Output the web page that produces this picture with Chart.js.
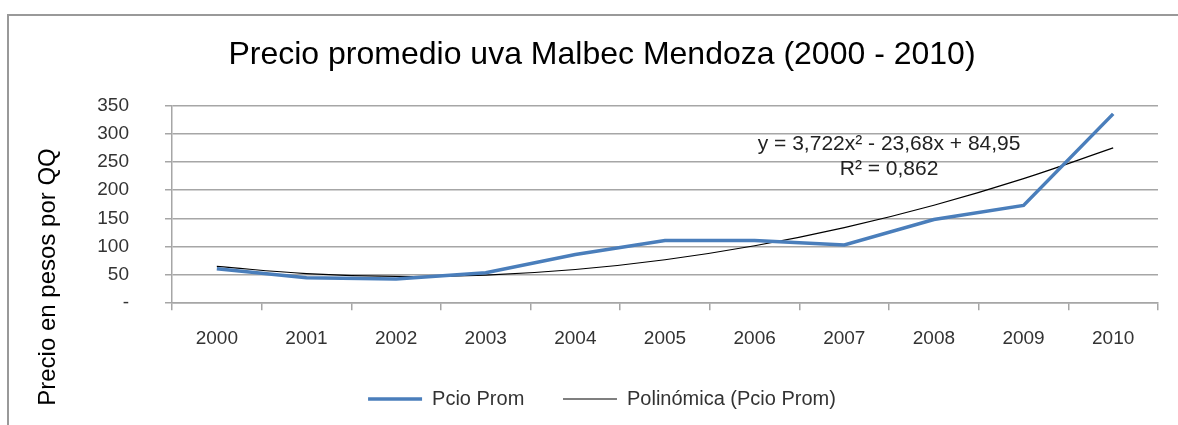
<!DOCTYPE html>
<html>
<head>
<meta charset="utf-8">
<script src="https://cdn.jsdelivr.net/npm/chart.js@4"></script>
<style>
  html, body { margin: 0; padding: 0; background: #fff; }
  #wrap { position: relative; width: 1178px; height: 425px; }
  #frame { position: absolute; left: 7px; top: 14px; width: 1180px; height: 420px;
           border-left: 2px solid #999; border-top: 2px solid #999; pointer-events: none; }
</style>
</head>
<body>
<div id="wrap">
  <canvas id="precioChart" width="1178" height="425"></canvas>
  <div id="frame"></div>
</div>
<script>
const years = ['2000', '2001', '2002', '2003', '2004', '2005', '2006', '2007', '2008', '2009', '2010'];
const pcioProm = [61, 45, 43, 54, 86, 111, 111, 103, 148, 173, 335];
const polinomica = [65, 52.5, 47.4, 49.8, 59.6, 76.9, 101.6, 133.7, 173.3, 220.4, 274.8];
const yTicks = [0, 50, 100, 150, 200, 250, 300, 350];
const ecuacion = ['y = 3,722x² - 23,68x + 84,95', 'R² = 0,862'];
const ejeY = 'Precio en pesos por QQ';

const fontFam = '"Liberation Sans", Arial, sans-serif';
const gridColor = '#a6a6a6';

// etiquetas extra: titulo del eje Y y ecuacion de la linea de tendencia
const extras = {
    id: 'extras',
    afterDraw(chart) {
        const ctx = chart.ctx;
        const x = chart.scales.x, y = chart.scales.y;
        ctx.save();
        ctx.fillStyle = '#000';
        ctx.font = '24px ' + fontFam;
        ctx.textAlign = 'center';
        ctx.textBaseline = 'middle';
        ctx.translate(48, 277);
        ctx.rotate(-Math.PI / 2);
        ctx.fillText(ejeY, 0, 0);
        ctx.restore();

        ctx.save();
        ctx.fillStyle = '#222';
        ctx.font = '21px ' + fontFam;
        ctx.textAlign = 'center';
        ctx.textBaseline = 'middle';
        ctx.fillText(ecuacion[0], x.getPixelForValue(7.5), y.getPixelForValue(282));
        ctx.fillText(ecuacion[1], x.getPixelForValue(7.5), y.getPixelForValue(237));
        ctx.restore();
    }
};

const ctx = document.getElementById('precioChart').getContext('2d');
new Chart(ctx, {
    type: 'line',
    data: {
        labels: years,
        datasets: [{
            label: 'Pcio Prom   ',
            data: pcioProm,
            borderColor: '#4a7ebb',
            backgroundColor: '#4a7ebb',
            borderWidth: 3.5,
            pointRadius: 0,
            tension: 0
        }, {
            label: 'Polinómica (Pcio Prom)',
            data: polinomica,
            borderColor: '#000',
            backgroundColor: '#000',
            borderWidth: 1.2,
            pointRadius: 0,
            tension: 0.4
        }]
    },
    options: {
        responsive: false,
        animation: false,
        layout: {
            padding: { left: 46, right: 20, top: 0, bottom: 6 }
        },
        plugins: {
            title: {
                display: true,
                text: 'Precio promedio uva Malbec Mendoza (2000 - 2010)',
                color: '#000',
                font: { family: fontFam, size: 32, weight: 'normal' },
                padding: { top: 36, bottom: 31 }
            },
            legend: {
                position: 'bottom',
                labels: {
                    usePointStyle: true,
                    pointStyle: 'line',
                    pointStyleWidth: 54,
                    color: '#333',
                    padding: 22,
                    font: { family: fontFam, size: 20 }
                }
            },
            tooltip: { enabled: false }
        },
        scales: {
            x: {
                offset: true,
                grid: {
                    offset: true,
                    drawOnChartArea: false,
                    color: gridColor,
                    lineWidth: 1.5,
                    tickLength: 7
                },
                border: { color: gridColor, width: 1.5 },
                ticks: {
                    color: '#333',
                    padding: 17,
                    maxRotation: 0,
                    font: { family: fontFam, size: 19 }
                }
            },
            y: {
                min: 0,
                max: 350,
                afterFit(scale) { scale.width = 126; },
                afterBuildTicks(scale) { scale.ticks = yTicks.map(v => ({ value: v })); },
                grid: {
                    color: gridColor,
                    lineWidth: 1.5,
                    tickLength: 7
                },
                border: { color: gridColor, width: 1.5 },
                ticks: {
                    color: '#333',
                    padding: 36,
                    font: { family: fontFam, size: 19 },
                    callback: v => v === 0 ? '-' : v
                }
            }
        }
    },
    plugins: [extras]
});
</script>
</body>
</html>
